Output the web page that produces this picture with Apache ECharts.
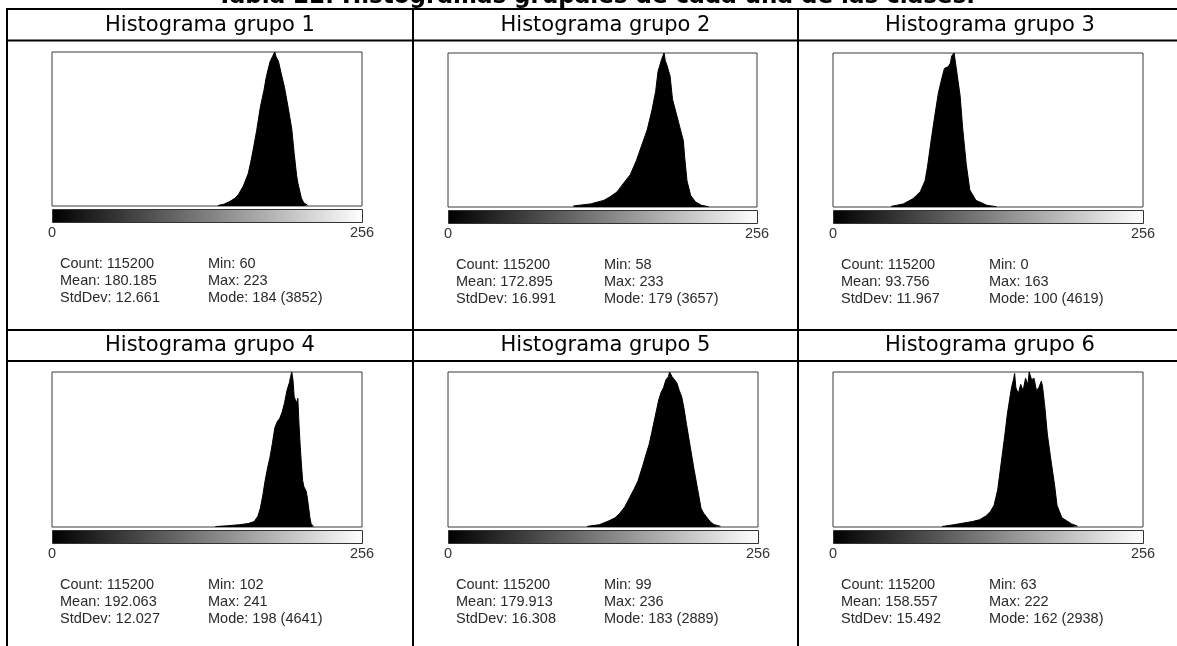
<!DOCTYPE html>
<html><head><meta charset="utf-8">
<script src="https://cdn.jsdelivr.net/npm/echarts@6/dist/echarts.min.js"></script>
<style>html,body{margin:0;padding:0;background:#fff}#c{width:1177px;height:646px}</style>
</head><body><div id="c"></div>
<script>
// ---------------- data ----------------
const titleText = 'Tabla 22. Histogramas grupales de cada una de las clases.';
const groupNames = ['Histograma grupo 1','Histograma grupo 2','Histograma grupo 3','Histograma grupo 4','Histograma grupo 5','Histograma grupo 6'];
const axisTicks = [0, 256];

const bins1   = [137,142,147,151,154,158,162,164,166,169,172,175,177,180,182,183,184,185,187,189,192,195,198,200,202,203,206,208,211];
const counts1 = [12,46,116,193,289,501,809,1079,1387,1887,2465,2889,3236,3602,3736,3775,3852,3736,3621,3351,2966,2465,1926,1310,770,578,193,77,19];

const bins2   = [104,118,129,134,140,145,151,156,160,165,169,172,174,177,178,179,180,181,184,186,189,192,195,196,198,201,205,210,216];
const counts2 = [26,73,157,238,358,549,768,1097,1426,1829,2304,2743,3218,3511,3547,3657,3474,3401,3108,2560,2231,1902,1573,1207,622,278,121,40,7];

const bins3   = [48,58,66,72,76,78,81,84,87,90,92,95,97,98,100,102,105,107,110,113,118,127,135];
const counts3 = [18,92,249,453,785,1201,1986,2725,3418,3880,4157,4203,4319,4527,4619,4111,3326,2402,1293,508,199,51,9];

const bins4   = [135,145,155,162,167,170,172,174,176,178,180,182,184,186,188,190,192,194,196,197,198,199,200,201,202,203,204,205,206,207,208,210,211,212,213,214,216];
const counts4 = [14,37,70,102,162,325,557,928,1392,1764,2088,2506,2970,3156,3249,3434,3713,4084,4316,4502,4641,4409,3898,3806,3713,3852,3063,2413,1856,1392,1207,1067,835,557,278,93,19];

const bins5   = [115,125,133,138,142,146,150,154,157,161,164,166,168,171,174,176,178,180,182,183,185,187,189,191,193,195,197,200,203,206,209,211,214,217,220,225];
const counts5 = [12,43,116,173,260,376,549,722,867,1156,1387,1531,1733,2051,2369,2513,2600,2745,2802,2889,2802,2745,2687,2542,2427,2196,1907,1502,1098,722,347,260,173,87,43,12];

const bins6   = [90,100,108,115,121,126,130,133,136,139,142,144,147,148,149,150,151,153,155,157,159,161,162,164,166,168,170,172,173,175,177,180,183,185,187,189,193,197,202];
const counts6 = [9,44,76,103,138,206,294,411,705,1234,1763,2145,2585,2703,2791,2909,2644,2527,2703,2585,2820,2703,2938,2791,2820,2585,2644,2762,2674,2262,1763,1263,793,411,294,176,118,59,15];

const statCount     = [115200,115200,115200,115200,115200,115200];
const statMean      = ['180.185','172.895','93.756','192.063','179.913','158.557'];
const statStdDev    = ['12.661','16.991','11.967','12.027','16.308','15.492'];
const statMin       = [60,58,0,102,99,63];
const statMax       = [223,233,163,241,236,222];
const statMode      = [184,179,100,198,183,162];
const statModeCount = [3852,3657,4619,4641,2889,2938];

const allBins = [bins1,bins2,bins3,bins4,bins5,bins6];
const allCounts = [counts1,counts2,counts3,counts4,counts5,counts6];

// ---------------- layout ----------------
const boxes = [
  {l:52,  t:52,  w:310, h:154},
  {l:448, t:53,  w:309, h:154},
  {l:833, t:53,  w:310, h:154},
  {l:52,  t:372, w:310, h:155},
  {l:448, t:372, w:310, h:155},
  {l:833, t:372, w:310, h:155}
];
const colX = [7, 413, 798, 1182];
const headerRows = [[9, 40.5], [330, 361]];

const grids = [], xAxes = [], yAxes = [], series = [], graphics = [];
const statFont = 'Liberation Sans, Arial, sans-serif';

boxes.forEach((b, i) => {
  grids.push({left:b.l, top:b.t, width:b.w, height:b.h, show:true,
    borderColor:'#3a3a3a', borderWidth:1, backgroundColor:'#fff', containLabel:false});
  xAxes.push({gridIndex:i, type:'value', min:axisTicks[0], max:axisTicks[1], interval:axisTicks[1]-axisTicks[0],
    axisLine:{show:false}, axisTick:{show:false}, splitLine:{show:false},
    axisLabel:{margin:19, color:'#333', fontSize:14.5, fontFamily:statFont, showMinLabel:true, showMaxLabel:true}});
  yAxes.push({gridIndex:i, type:'value', min:0, max:statModeCount[i], show:false});
  series.push({type:'line', xAxisIndex:i, yAxisIndex:i, symbol:'none', silent:true,
    data: allBins[i].map((v, k) => [v, allCounts[i][k]]),
    lineStyle:{color:'#000', width:1}, areaStyle:{color:'#000', opacity:1}, z:3});
  // LUT gradient bar
  graphics.push({type:'rect', shape:{x:b.l+0.5, y:b.t+b.h+3.5, width:b.w, height:13},
    style:{fill:new echarts.graphic.LinearGradient(0,0,1,0,[{offset:0,color:'#000'},{offset:1,color:'#fff'}]),
      stroke:'#333', lineWidth:1}, z:5});
  // stats
  const sx1 = b.l + 8, sx2 = b.l + 156, sy = b.t + b.h + 57.5;
  const left = ['Count: ' + statCount[i], 'Mean: ' + statMean[i], 'StdDev: ' + statStdDev[i]];
  const right = ['Min: ' + statMin[i], 'Max: ' + statMax[i], 'Mode: ' + statMode[i] + ' (' + statModeCount[i] + ')'];
  for (let r = 0; r < 3; r++) {
    graphics.push({type:'text', x:sx1, y:sy + r*17, style:{text:left[r], fill:'#2a2a2a',
      font:'14.5px ' + statFont, textAlign:'left', textVerticalAlign:'middle'}, z:5});
    graphics.push({type:'text', x:sx2, y:sy + r*17, style:{text:right[r], fill:'#2a2a2a',
      font:'14.5px ' + statFont, textAlign:'left', textVerticalAlign:'middle'}, z:5});
  }
  // header
  const row = i < 3 ? 0 : 1, col = i % 3;
  const hy = (headerRows[row][0] + headerRows[row][1]) / 2 + 0.5;
  graphics.push({type:'text', x:(colX[col] + colX[col+1]) / 2, y:hy,
    style:{text:groupNames[i], fill:'#000', font:'21px "DejaVu Sans", sans-serif', textAlign:'center', textVerticalAlign:'middle'}, z:5});
});

// table lines
const lw = 2;
function hline(y, x1, x2) { graphics.push({type:'line', shape:{x1:x1, y1:y, x2:x2, y2:y}, style:{stroke:'#000', lineWidth:lw}, z:6}); }
function vline(x, y1, y2) { graphics.push({type:'line', shape:{x1:x, y1:y1, x2:x, y2:y2}, style:{stroke:'#000', lineWidth:lw}, z:6}); }
hline(headerRows[0][0], colX[0]-1, 1177);
hline(headerRows[0][1], colX[0]-1, 1177);
hline(headerRows[1][0], colX[0]-1, 1177);
hline(headerRows[1][1], colX[0]-1, 1177);
vline(colX[0], headerRows[0][0]-1, 646);
vline(colX[1], headerRows[0][0]-1, 646);
vline(colX[2], headerRows[0][0]-1, 646);

// title (cut off at top)
graphics.push({type:'text', x:596, y:-3, style:{text:titleText, fill:'#000',
  font:'bold 23px "DejaVu Sans", sans-serif', textAlign:'center', textVerticalAlign:'middle'}, z:4});

const chart = echarts.init(document.getElementById('c'), null, {renderer:'canvas'});
chart.setOption({animation:false, backgroundColor:'#fff', grid:grids, xAxis:xAxes, yAxis:yAxes, series:series, graphic:graphics});
</script></body></html>
